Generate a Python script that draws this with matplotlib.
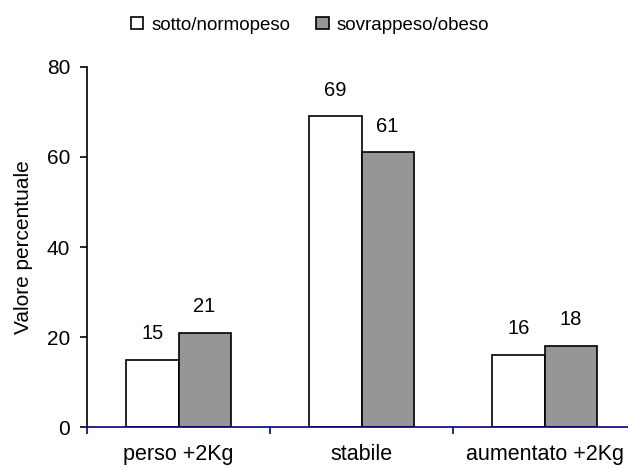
import numpy as np
import matplotlib
matplotlib.use("Agg")
import matplotlib.pyplot as plt

categories = ["perso +2Kg", "stabile", "aumentato +2Kg"]
sotto_normopeso = [15, 69, 16]
sovrappeso_obeso = [21, 61, 18]
series_names = ["sotto/normopeso", "sovrappeso/obeso"]

plt.rcParams['font.family'] = ['Liberation Sans', 'DejaVu Sans']

fig = plt.figure(figsize=(6.28, 4.69), dpi=100)
ax = fig.add_axes([87 / 628, 42 / 469, 549 / 628, 360 / 469])

x = np.arange(len(categories))
w = 0.285
b1 = ax.bar(x - w / 2, sotto_normopeso, w, color="white", edgecolor="black",
            linewidth=1.2, label=series_names[0])
b2 = ax.bar(x + w / 2, sovrappeso_obeso, w, color="#969696", edgecolor="black",
            linewidth=1.2, label=series_names[1])

for bars, vals in ((b1, sotto_normopeso), (b2, sovrappeso_obeso)):
    for rect, v in zip(bars, vals):
        ax.annotate(str(v), (rect.get_x() + rect.get_width() / 2, v),
                    xytext=(0, 19), textcoords="offset points",
                    ha="center", va="center", fontsize=14.5)

ax.set_xlim(-0.5, 2.5)
ax.set_ylim(0, 80)
ax.set_yticks([0, 20, 40, 60, 80])
ax.tick_params(axis="y", labelsize=15, length=5, width=1.2, pad=7)

ax.set_xticks(x)
ax.set_xticklabels(categories, fontsize=15.5)
ax.set_xticks([-0.5, 0.5, 1.5, 2.5], minor=True)
ax.tick_params(axis="x", which="major", length=0, pad=12)
ax.tick_params(axis="x", which="minor", length=5, width=1.2, color="#000080",
               direction="out", bottom=True)

for s in ("top", "right"):
    ax.spines[s].set_visible(False)
ax.spines["left"].set_linewidth(1.2)
ax.spines["bottom"].set_color("#000080")
ax.spines["bottom"].set_linewidth(1.2)

ax.set_ylabel("Valore percentuale", fontsize=15, labelpad=10)

fig.legend(loc="center", bbox_to_anchor=(310 / 628, 1 - 25 / 469), ncol=2,
           frameon=False, fontsize=13.5, handlelength=0.65, handleheight=0.65,
           handletextpad=0.45, columnspacing=1.4)

fig.savefig("out.png", dpi=100)
